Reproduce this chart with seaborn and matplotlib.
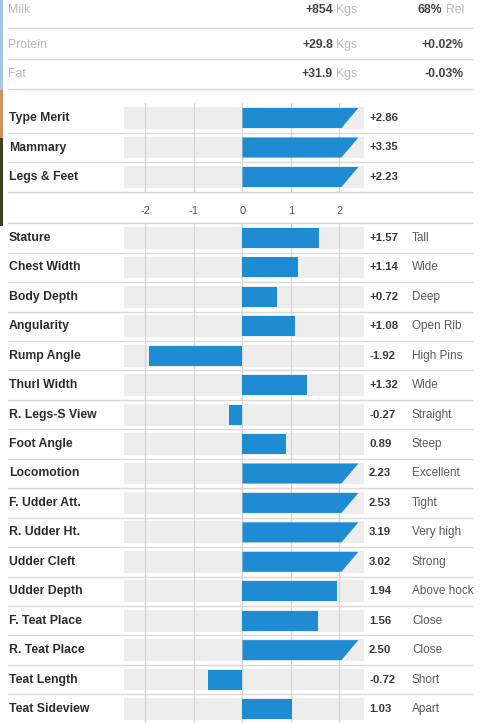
import numpy as np
import pandas as pd
import matplotlib
matplotlib.use("Agg")
import matplotlib.pyplot as plt
import matplotlib.transforms as mtransforms
from matplotlib.patches import Polygon, Rectangle
from matplotlib.lines import Line2D
import seaborn as sns

# ---------------- data ----------------
summary_traits = ["Milk", "Protein", "Fat"]
summary_kgs = ["+854", "+29.8", "+31.9"]
summary_pct = ["68%", "+0.02%", "-0.03%"]
summary_suffix = ["Rel", "", ""]

index_traits = ["Type Merit", "Mammary", "Legs & Feet"]
index_values = [2.86, 3.35, 2.23]
index_labels = ["+2.86", "+3.35", "+2.23"]

linear_traits = ["Stature", "Chest Width", "Body Depth", "Angularity", "Rump Angle",
                 "Thurl Width", "R. Legs-S View", "Foot Angle", "Locomotion",
                 "F. Udder Att.", "R. Udder Ht.", "Udder Cleft", "Udder Depth",
                 "F. Teat Place", "R. Teat Place", "Teat Length", "Teat Sideview"]
linear_values = [1.57, 1.14, 0.72, 1.08, -1.92, 1.32, -0.27, 0.89, 2.23,
                 2.53, 3.19, 3.02, 1.94, 1.56, 2.50, -0.72, 1.03]
linear_labels = ["+1.57", "+1.14", "+0.72", "+1.08", "-1.92", "+1.32", "-0.27", "0.89", "2.23",
                 "2.53", "3.19", "3.02", "1.94", "1.56", "2.50", "-0.72", "1.03"]
linear_desc = ["Tall", "Wide", "Deep", "Open Rib", "High Pins", "Wide", "Straight", "Steep",
               "Excellent", "Tight", "Very high", "Strong", "Above hock", "Close", "Close",
               "Short", "Apart"]

axis_ticks = [-2, -1, 0, 1, 2]
axis_tick_labels = ["-2", "-1", "0", "1", "2"]

# ---------------- style ----------------
W, H = 480, 723
BLUE = "#1e8bd3"
BAND = "#ededed"
BAND_LO, BAND_HI = -2.45, 2.5
CAP_AT, CAP_BASE, CAP_TIP = 2.1, 2.04, 2.39
XLIM = (-5.0, 4.897)

sns.set_theme(style="white")
plt.rcParams["font.family"] = ["Liberation Sans", "DejaVu Sans"]
plt.rcParams["axes.unicode_minus"] = False

fig = plt.figure(figsize=(W / 100, H / 100), dpi=100)
fig.patch.set_facecolor("white")


def fx(px):
    return px / W


def fy(py):
    return 1 - py / H


# thin photo edge on the far left
for y0, y1, c in [(0, 90, "#a7c8e4"), (90, 138, "#c9955c"), (138, 226, "#3c4322")]:
    fig.patches.append(Rectangle((0, fy(y1)), fx(3), (y1 - y0) / H,
                                 transform=fig.transFigure, color=c, lw=0))

# ---------------- summary rows ----------------
SFS = 8.8
row_y = [10, 45, 74]
for name, kg, pct, suf, yy in zip(summary_traits, summary_kgs, summary_pct, summary_suffix, row_y):
    fig.text(fx(8), fy(yy), name, fontsize=SFS, color="#b8b8b8", va="center")
    fig.text(fx(333), fy(yy), kg, fontsize=SFS, color="#444444", fontweight="bold",
             va="center", ha="right")
    fig.text(fx(336), fy(yy), "Kgs", fontsize=SFS, color="#b8b8b8", va="center")
    if suf:
        fig.text(fx(442), fy(yy), pct, fontsize=SFS, color="#444444", fontweight="bold",
                 va="center", ha="right")
        fig.text(fx(446), fy(yy), suf, fontsize=SFS, color="#b8b8b8", va="center")
    else:
        fig.text(fx(464), fy(yy), pct, fontsize=SFS, color="#444444", fontweight="bold",
                 va="center", ha="right")
for yy in [28, 59, 89]:
    fig.add_artist(Line2D([fx(8), fx(472)], [fy(yy), fy(yy)], transform=fig.transFigure,
                          color="#d4d4d4", lw=1))


def draw_panel(ax, traits, values, labels, descs=None, top_line=False):
    n = len(traits)
    shown = [CAP_BASE if v > CAP_AT else v for v in values]
    # grey background band (two halves around zero)
    sns.barplot(x=[BAND_HI] * n, y=traits, orient="h", color=BAND, saturation=1,
                width=0.74, linewidth=0, ax=ax, zorder=1)
    sns.barplot(x=[BAND_LO] * n, y=traits, orient="h", color=BAND, saturation=1,
                width=0.74, linewidth=0, ax=ax, zorder=1)
    n_before = len(ax.patches)
    sns.barplot(x=shown, y=traits, orient="h", color=BLUE, saturation=1,
                width=0.68, linewidth=0, ax=ax, zorder=2)
    bars = list(ax.patches[n_before:])
    for p, v in zip(bars, values):
        if v > CAP_AT:
            x0 = p.get_x()
            right = x0 + p.get_width()
            yt = p.get_y()
            h = p.get_height()
            p.set_visible(False)
            ax.add_patch(Polygon([(x0, yt), (right + CAP_TIP - CAP_BASE, yt),
                                  (right, yt + h), (x0, yt + h)],
                                 closed=True, facecolor=BLUE, edgecolor="none", lw=0, zorder=2))
    ax.set_xlim(*XLIM)
    ax.set_ylim(n - 0.5, -0.5)
    ax.set_yticks([])
    ax.set_xlabel("")
    ax.set_ylabel("")
    for s in ax.spines.values():
        s.set_visible(False)
    ax.set_xticks(axis_ticks)
    ax.set_axisbelow("line")
    ax.grid(axis="x", color="#d4d4d4", lw=0.9)
    ax.grid(axis="y", visible=False)
    ax.patch.set_alpha(0)

    blend = mtransforms.blended_transform_factory(fig.transFigure, ax.transData)
    bounds = np.arange(n) + 0.5
    if top_line:
        bounds = np.concatenate([[-0.5], bounds[:-1]])
    for b in bounds:
        ax.axhline(b, xmin=fx(8), xmax=fx(472), color="#d8d8d8", lw=1, clip_on=False, zorder=1.2)
    for i, (t, lab) in enumerate(zip(traits, labels)):
        ax.text(fx(9), i, t, transform=blend, fontsize=8.8, fontweight="bold",
                color="#2b2b2b", va="center")
        ax.text(fx(369), i, lab, transform=blend, fontsize=8.2, fontweight="bold",
                color="#383838", va="center")
        if descs is not None:
            ax.text(fx(412), i, descs[i], transform=blend, fontsize=8.5,
                    color="#5a5a5a", va="center")


ax1 = fig.add_axes([0, fy(191.75), 1, 88.5 / H])
ax2 = fig.add_axes([0, fy(723.7), 1, 500.4 / H])

draw_panel(ax1, index_traits, index_values, index_labels)
ax1.set_xticklabels(axis_tick_labels)
ax1.tick_params(axis="x", length=0, pad=10, labelsize=8, labelcolor="#555555")

draw_panel(ax2, linear_traits, linear_values, linear_labels, linear_desc, top_line=True)
ax2.tick_params(axis="x", length=0, labelbottom=False)

fig.savefig("out.png", dpi=100)
